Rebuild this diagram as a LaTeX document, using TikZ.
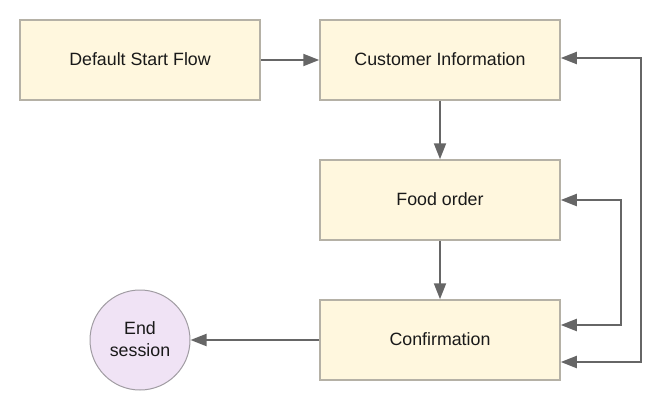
\documentclass[tikz,border=0pt]{standalone}
\usepackage{fontspec}
\setmainfont{Liberation Sans}
\usetikzlibrary{arrows.meta,positioning}
\definecolor{boxfill}{HTML}{FFF7DE}
\definecolor{boxline}{HTML}{B5B1A6}
\definecolor{circfill}{HTML}{F0E3F5}
\definecolor{circline}{HTML}{A09CA2}
\definecolor{conncol}{HTML}{666666}
\tikzset{
  box/.style={draw=boxline, fill=boxfill, line width=1.5pt, minimum width=240pt, minimum height=80pt, inner sep=0pt, font=\fontsize{17.8}{21.5}\selectfont, text=black!90},
  endcirc/.style={circle, draw=circline, fill=circfill, line width=1pt, minimum size=100pt, inner sep=0pt, align=center, font=\fontsize{17.8}{21.5}\selectfont, text=black!90},
  tip/.tip={Triangle[length=16pt,width=12pt]},
  conn/.style={draw=conncol, line width=2pt, -{tip}},
  conn2/.style={draw=conncol, line width=2pt, {tip}-{tip}},
}
\begin{document}
\begin{tikzpicture}[x=1pt,y=-1pt]
\useasboundingbox (0,0) rectangle (651,410);
\node[box] (start) at (140,60) {\raisebox{2pt}{Default Start Flow}};
\node[box] (cust) at (440,60) {\raisebox{2pt}{Customer Information}};
\node[box] (food) at (440,200) {\raisebox{2pt}{Food order}};
\node[box] (conf) at (440,340) {\raisebox{2pt}{Confirmation}};
\node[endcirc] (end) at (140,340) {\raisebox{2pt}{End}\\\raisebox{2pt}{session}};
\draw[conn] (start) -- (cust);
\draw[conn] (cust) -- (food);
\draw[conn] (food) -- (conf);
\draw[conn] (conf) -- (end);
\draw[conn2] ([yshift=-22pt]conf.east) -- ++(80,0) |- ([yshift=2pt]cust.east);
\draw[conn2] ([yshift=15pt]conf.east) -- ++(60,0) |- (food.east);
\end{tikzpicture}
\end{document}
